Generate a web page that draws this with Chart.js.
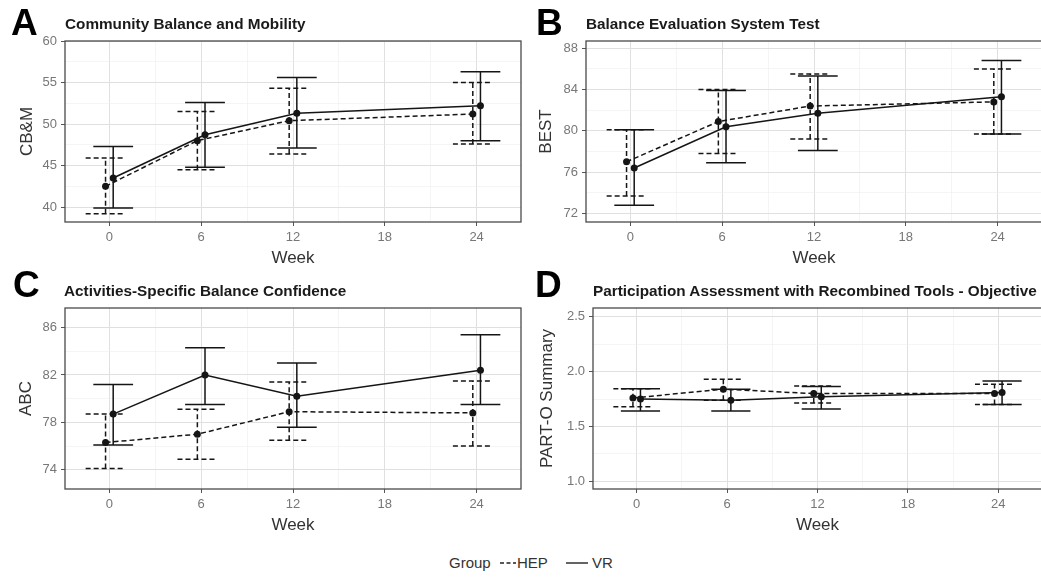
<!DOCTYPE html>
<html>
<head>
<meta charset="utf-8">
<script src="https://cdn.jsdelivr.net/npm/chart.js@4.4.1/dist/chart.umd.min.js"></script>
<style>
  html, body { margin: 0; padding: 0; overflow: hidden; background: #fff; }
  #wrap { position: relative; width: 1041px; height: 578px; overflow: hidden; background: #fff; }
  canvas { position: absolute; }
  .letter { position: absolute; font: bold 37px "Liberation Sans", Arial, sans-serif; line-height: 36px; color: #000; }
  .title { position: absolute; font: bold 15.3px "Liberation Sans", Arial, sans-serif; line-height: 15px; color: #1a1a1a; white-space: nowrap; }
  .leg { position: absolute; top: 554px; font: 15px "Liberation Sans", Arial, sans-serif; color: #333; white-space: nowrap; line-height: 18px; }
  .legkey { position: absolute; top: 560px; }
</style>
</head>
<body>
<div id="wrap">
  <canvas id="cA" width="525" height="270" style="left:0;top:0"></canvas>
  <canvas id="cB" width="525" height="270" style="left:521px;top:0"></canvas>
  <canvas id="cC" width="525" height="270" style="left:0;top:267px"></canvas>
  <canvas id="cD" width="518" height="270" style="left:528px;top:267px"></canvas>

  <div class="letter" style="left:11px;top:5px">A</div>
  <div class="letter" style="left:536px;top:5px">B</div>
  <div class="letter" style="left:13px;top:267px">C</div>
  <div class="letter" style="left:535px;top:267px">D</div>

  <div class="title" style="left:65px;top:16px">Community Balance and Mobility</div>
  <div class="title" style="left:586px;top:16px">Balance Evaluation System Test</div>
  <div class="title" style="left:64px;top:283px">Activities-Specific Balance Confidence</div>
  <div class="title" style="left:593px;top:283px">Participation Assessment with Recombined Tools - Objective</div>

  <div class="leg" style="left:449px">Group</div>
  <svg class="legkey" style="left:500px" width="16" height="6"><line x1="0" y1="3" x2="16" y2="3" stroke="#222" stroke-width="1.4" stroke-dasharray="4,2.5"/></svg>
  <div class="leg" style="left:517px">HEP</div>
  <svg class="legkey" style="left:566px" width="22" height="6"><line x1="0" y1="3" x2="22" y2="3" stroke="#222" stroke-width="1.4"/></svg>
  <div class="leg" style="left:592px">VR</div>
</div>

<script>
const weeks = [0, 6, 12, 24];
const groups = ["HEP", "VR"];

// A: Community Balance and Mobility (CB&M)
const cbmHepMean = [42.5, 48.0, 50.4, 51.2];
const cbmHepLow  = [39.2, 44.5, 46.4, 47.6];
const cbmHepHigh = [45.9, 51.5, 54.3, 55.0];
const cbmVrMean  = [43.5, 48.7, 51.3, 52.2];
const cbmVrLow   = [39.9, 44.8, 47.1, 48.0];
const cbmVrHigh  = [47.3, 52.6, 55.6, 56.3];

// B: Balance Evaluation System Test (BEST)
const bestHepMean = [77.0, 80.9, 82.4, 82.8];
const bestHepLow  = [73.7, 77.8, 79.2, 79.7];
const bestHepHigh = [80.1, 84.0, 85.5, 86.0];
const bestVrMean  = [76.4, 80.4, 81.7, 83.3];
const bestVrLow   = [72.8, 76.9, 78.1, 79.7];
const bestVrHigh  = [80.1, 83.9, 85.3, 86.8];

// C: Activities-Specific Balance Confidence (ABC)
const abcHepMean = [76.3, 77.0, 78.9, 78.8];
const abcHepLow  = [74.1, 74.9, 76.5, 76.0];
const abcHepHigh = [78.7, 79.1, 81.4, 81.5];
const abcVrMean  = [78.7, 82.0, 80.2, 82.4];
const abcVrLow   = [76.1, 79.5, 77.6, 79.5];
const abcVrHigh  = [81.2, 84.3, 83.0, 85.4];

// D: PART-O Summary
const partoHepMean = [1.76, 1.84, 1.80, 1.80];
const partoHepLow  = [1.68, 1.74, 1.715, 1.70];
const partoHepHigh = [1.845, 1.93, 1.87, 1.885];
const partoVrMean  = [1.75, 1.74, 1.77, 1.81];
const partoVrLow   = [1.64, 1.64, 1.66, 1.70];
const partoVrHigh  = [1.845, 1.84, 1.865, 1.915];

// tick labels (major) and minor grid positions
const xMajor = [0, 6, 12, 18, 24];
const xMinor = [3, 9, 15, 21];
const yMajorA = [40, 45, 50, 55, 60];
const yMinorA = [42.5, 47.5, 52.5, 57.5];
const yMajorB = [72, 76, 80, 84, 88];
const yMinorB = [74, 78, 82, 86];
const yMajorC = [74, 78, 82, 86];
const yMinorC = [76, 80, 84];
const yMajorD = [1.0, 1.5, 2.0, 2.5];
const yMinorD = [1.25, 1.75, 2.25];

const xRange = [-2.9, 26.9];
const yRangeA = [38.2, 60];
const yRangeB = [71.17, 88.7];
const yRangeC = [72.38, 87.65];
const yRangeD = [0.93, 2.58];

const FONT = '"Liberation Sans", Arial, sans-serif';
const DODGE = 0.25;
const CAP = 1.3;
const INK = '#151515';

// error bars drawn through the chart scales
const errorBars = {
  id: 'errorBars',
  beforeDatasetsDraw(chart) {
    const { ctx, scales: { x, y } } = chart;
    chart.data.datasets.forEach(ds => {
      ctx.save();
      ctx.strokeStyle = INK;
      ctx.lineWidth = 1.5;
      ctx.setLineDash(ds.borderDash || []);
      ds.data.forEach((p, i) => {
        const px = x.getPixelForValue(p.x);
        const xl = x.getPixelForValue(p.x - CAP);
        const xr = x.getPixelForValue(p.x + CAP);
        const yl = y.getPixelForValue(ds.low[i]);
        const yh = y.getPixelForValue(ds.high[i]);
        ctx.beginPath();
        ctx.moveTo(px, yl); ctx.lineTo(px, yh);
        ctx.moveTo(xl, yh); ctx.lineTo(xr, yh);
        ctx.moveTo(xl, yl); ctx.lineTo(xr, yl);
        ctx.stroke();
      });
      ctx.restore();
    });
  }
};

// ggplot theme_bw style border around the panel
const panelBorder = {
  id: 'panelBorder',
  afterDraw(chart) {
    const { ctx, chartArea: a } = chart;
    ctx.save();
    ctx.strokeStyle = '#4a4a4a';
    ctx.lineWidth = 1.3;
    ctx.strokeRect(a.left, a.top, a.right - a.left, a.bottom - a.top);
    ctx.restore();
  }
};

function makeChart(id, p) {
  const allX = xMajor.concat(xMinor).sort((a, b) => a - b);
  const allY = p.yMajor.concat(p.yMinor).sort((a, b) => a - b);
  const gridColor = major => c => major.includes(c.tick.value) ? '#e0e0e0' : '#eeeeee';
  const gridWidth = major => c => major.includes(c.tick.value) ? 1 : 0.6;
  const tickColor = major => c => major.includes(c.tick.value) ? '#555' : 'rgba(0,0,0,0)';

  return new Chart(document.getElementById(id), {
    type: 'line',
    data: {
      datasets: [
        {
          label: groups[0],
          data: weeks.map((w, i) => ({ x: w - DODGE, y: p.hep[i] })),
          low: p.hepLow, high: p.hepHigh,
          borderColor: INK, borderWidth: 1.5, borderDash: [5, 3],
          pointRadius: 3.5, pointBackgroundColor: INK, pointBorderWidth: 0,
          tension: 0
        },
        {
          label: groups[1],
          data: weeks.map((w, i) => ({ x: w + DODGE, y: p.vr[i] })),
          low: p.vrLow, high: p.vrHigh,
          borderColor: INK, borderWidth: 1.5,
          pointRadius: 3.5, pointBackgroundColor: INK, pointBorderWidth: 0,
          tension: 0
        }
      ]
    },
    options: {
      responsive: false,
      animation: false,
      devicePixelRatio: 1,
      layout: { padding: { top: 41, right: p.padRight, bottom: 0, left: 0 } },
      plugins: { legend: { display: false }, tooltip: { enabled: false } },
      scales: {
        x: {
          type: 'linear', min: xRange[0], max: xRange[1],
          afterBuildTicks: s => { s.ticks = allX.map(v => ({ value: v })); },
          afterFit: s => { s.height = 48; },
          ticks: {
            autoSkip: false, maxRotation: 0, padding: 4, color: '#777',
            font: { family: FONT, size: 13 },
            callback: v => xMajor.includes(v) ? String(v) : ''
          },
          grid: {
            color: gridColor(xMajor), lineWidth: gridWidth(xMajor),
            tickColor: tickColor(xMajor), tickLength: 4, tickWidth: 1
          },
          border: { display: false },
          title: {
            display: true, text: 'Week', color: '#333',
            font: { family: FONT, size: 17 }, padding: { top: 0, bottom: 1 }
          }
        },
        y: {
          type: 'linear', min: p.yRange[0], max: p.yRange[1],
          afterBuildTicks: s => { s.ticks = allY.map(v => ({ value: v })); },
          afterFit: s => { s.width = 65; },
          ticks: {
            autoSkip: false, padding: 4, color: '#777',
            font: { family: FONT, size: 13 },
            callback: v => p.yMajor.includes(v) ? p.fmt(v) : ''
          },
          grid: {
            color: gridColor(p.yMajor), lineWidth: gridWidth(p.yMajor),
            tickColor: tickColor(p.yMajor), tickLength: 4, tickWidth: 1
          },
          border: { display: false },
          title: {
            display: true, text: p.yTitle, color: '#333',
            font: { family: FONT, size: 17 }, padding: { top: p.titlePad, bottom: 0 }
          }
        }
      }
    },
    plugins: [errorBars, panelBorder]
  });
}

makeChart('cA', {
  hep: cbmHepMean, hepLow: cbmHepLow, hepHigh: cbmHepHigh,
  vr: cbmVrMean, vrLow: cbmVrLow, vrHigh: cbmVrHigh,
  yMajor: yMajorA, yMinor: yMinorA, yRange: yRangeA,
  yTitle: 'CB&M', titlePad: 17.5, padRight: 3, fmt: v => String(v)
});
makeChart('cB', {
  hep: bestHepMean, hepLow: bestHepLow, hepHigh: bestHepHigh,
  vr: bestVrMean, vrLow: bestVrLow, vrHigh: bestVrHigh,
  yMajor: yMajorB, yMinor: yMinorB, yRange: yRangeB,
  yTitle: 'BEST', titlePad: 15.5, padRight: 3, fmt: v => String(v)
});
makeChart('cC', {
  hep: abcHepMean, hepLow: abcHepLow, hepHigh: abcHepHigh,
  vr: abcVrMean, vrLow: abcVrLow, vrHigh: abcVrHigh,
  yMajor: yMajorC, yMinor: yMinorC, yRange: yRangeC,
  yTitle: 'ABC', titlePad: 16.5, padRight: 3, fmt: v => String(v)
});
makeChart('cD', {
  hep: partoHepMean, hepLow: partoHepLow, hepHigh: partoHepHigh,
  vr: partoVrMean, vrLow: partoVrLow, vrHigh: partoVrHigh,
  yMajor: yMajorD, yMinor: yMinorD, yRange: yRangeD,
  yTitle: 'PART-O Summary', titlePad: 9.5, padRight: 3, fmt: v => v.toFixed(1)
});
</script>
</body>
</html>
